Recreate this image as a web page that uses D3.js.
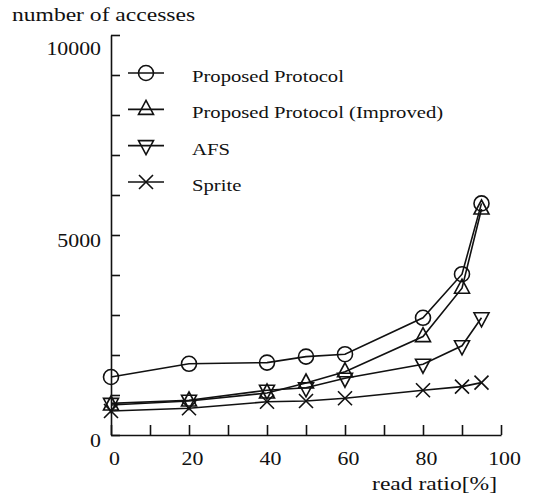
<!DOCTYPE html>
<html>
<head>
<meta charset="utf-8">
<script src="https://cdn.jsdelivr.net/npm/d3@7"></script>
<style>
  body { margin: 0; background: #fff; }
  svg { display: block; }
  svg text { font-family: "Liberation Serif", "DejaVu Serif", serif; }
</style>
</head>
<body>
<script>
// read ratio [%] on the x axis
const readRatio = [0, 20, 40, 50, 60, 80, 90, 95];
// number of accesses per protocol
const proposed = [1450, 1780, 1810, 1960, 2020, 2930, 4020, 5790];
const improved = [750, 850, 1050, 1300, 1580, 2460, 3670, 5650];
const afs      = [790, 870, 1120, 1180, 1420, 1770, 2230, 2930];
const sprite   = [600, 670, 830, 850, 920, 1120, 1210, 1310];

const seriesNames = ["Proposed Protocol", "Proposed Protocol (Improved)", "AFS", "Sprite"];
const markerTypes = ["circle", "up", "down", "cross"];
const xTicks = [0, 10, 20, 30, 40, 50, 60, 70, 80, 90, 100];
const yTicks = [0, 1000, 2000, 3000, 4000, 5000, 6000, 7000, 8000, 9000, 10000];

const series = [proposed, improved, afs, sprite].map((vals, i) => ({
    name: seriesNames[i],
    marker: markerTypes[i],
    values: vals
}));

const width = 536, height = 499;
const font = '"Liberation Serif", "DejaVu Serif", serif';

// the original type is wider than Times, stretch text a bit
function widen(sel, k) {
    sel.each(function() {
        const len = this.getComputedTextLength();
        if (len > 0) d3.select(this)
            .attr("textLength", len * k)
            .attr("lengthAdjust", "spacingAndGlyphs");
    });
}

const svg = d3.select("body").append("svg")
    .attr("width", width)
    .attr("height", height);

const x = d3.scaleLinear().domain([0, 100]).range([111, 501]);
const y = d3.scaleLinear().domain([0, 10000]).range([435, 35]);

// x axis, ticks pointing up into the plot
const xAxis = d3.axisBottom(x)
    .tickValues(xTicks)
    .tickSizeInner(-10)
    .tickSizeOuter(0)
    .tickPadding(17)
    .tickFormat(d => d % 20 === 0 ? d : "");

const gx = svg.append("g")
    .attr("transform", `translate(0,${y(0)})`)
    .call(xAxis);

// y axis, ticks pointing right
const yAxis = d3.axisLeft(y)
    .tickValues(yTicks)
    .tickSizeInner(-9)
    .tickSizeOuter(0)
    .tickPadding(10)
    .tickFormat(d => d % 5000 === 0 ? d : "");

const gy = svg.append("g")
    .attr("transform", `translate(${x(0)},0)`)
    .call(yAxis);

[gx, gy].forEach(g => {
    g.attr("font-family", null).attr("font-size", 19);
    g.selectAll("path, line").attr("stroke", "#111").attr("stroke-width", 1.6);
    g.selectAll("text").attr("fill", "#111").style("font-family", font);
    widen(g.selectAll("text"), 1.15);
});
gx.selectAll("text").attr("dx", 3);
gy.selectAll("text").attr("dy", d => d === 10000 ? "1.0em" : "0.6em");

// axis titles
const yTitle = svg.append("text")
    .attr("x", 12).attr("y", 21)
    .style("font-family", font).attr("font-size", 19)
    .attr("fill", "#111")
    .text("number of accesses");
widen(yTitle, 1.24);

const xTitle = svg.append("text")
    .attr("x", 497).attr("y", 490)
    .attr("text-anchor", "end")
    .style("font-family", font).attr("font-size", 19)
    .attr("fill", "#111")
    .text("read ratio[%]");
widen(xTitle, 1.24);

// marker shapes
function drawMarker(g, type) {
    if (type === "circle") {
        g.append("circle").attr("r", 7.5);
    } else if (type === "up") {
        g.append("path").attr("d", "M0,-9L7.5,5L-7.5,5Z");
    } else if (type === "down") {
        g.append("path").attr("d", "M0,9L7.5,-5L-7.5,-5Z");
    } else {
        g.append("path").attr("d", "M-7,-7L7,7M-7,7L7,-7");
    }
}

const line = d3.line()
    .x((d, i) => x(readRatio[i]))
    .y(d => y(d));

const plot = svg.append("g")
    .attr("fill", "none")
    .attr("stroke", "#111")
    .attr("stroke-width", 1.6);

series.forEach(s => {
    plot.append("path").attr("d", line(s.values));
    s.values.forEach((v, i) => {
        const m = plot.append("g")
            .attr("transform", `translate(${x(readRatio[i])},${y(v)})`);
        drawMarker(m, s.marker);
    });
});

// legend
const legendY = d3.scalePoint().domain(seriesNames).range([73, 182]);

const legend = svg.append("g");
series.forEach(s => {
    const row = legend.append("g")
        .attr("transform", `translate(0,${legendY(s.name)})`);
    const mk = row.append("g")
        .attr("fill", "none")
        .attr("stroke", "#111")
        .attr("stroke-width", 1.6);
    mk.append("line").attr("x1", 128).attr("x2", 164);
    const c = mk.append("g").attr("transform", "translate(146,0)");
    drawMarker(c, s.marker);
    const t = row.append("text")
        .attr("x", 192).attr("y", 9)
        .style("font-family", font).attr("font-size", 16)
        .attr("fill", "#111")
        .text(s.name);
    widen(t, 1.29);
});
</script>
</body>
</html>
